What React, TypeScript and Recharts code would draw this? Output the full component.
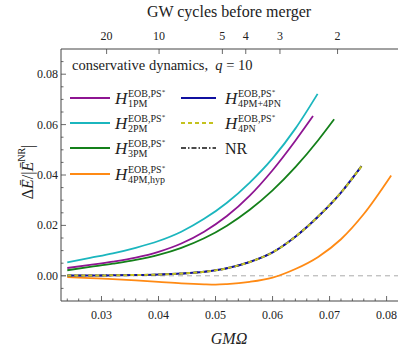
import { LineChart, Line, XAxis, YAxis, ReferenceLine } from 'recharts'

// GMΩ samples and relative binding-energy error
const omega1PM = [0.024, 0.028, 0.032, 0.036, 0.04, 0.044, 0.048, 0.052, 0.056, 0.06, 0.064, 0.0671]
const dE1PM = [0.0031, 0.0043, 0.0056, 0.0072, 0.0095, 0.0128, 0.0175, 0.0237, 0.0318, 0.0419, 0.0536, 0.0634]

const omega2PM = [0.024, 0.028, 0.032, 0.036, 0.04, 0.044, 0.048, 0.052, 0.056, 0.06, 0.064, 0.0679]
const dE2PM = [0.0053, 0.0071, 0.0089, 0.0111, 0.0138, 0.0175, 0.0226, 0.029, 0.037, 0.0466, 0.0584, 0.0722]

const omega3PM = [0.024, 0.028, 0.032, 0.036, 0.04, 0.044, 0.048, 0.052, 0.056, 0.06, 0.064, 0.068, 0.0708]
const dE3PM = [0.0022, 0.0035, 0.0048, 0.0063, 0.0083, 0.0111, 0.0149, 0.0199, 0.0262, 0.0339, 0.0431, 0.0538, 0.0621]

const omegaHyp = [0.024, 0.028, 0.032, 0.036, 0.04, 0.044, 0.048, 0.05, 0.052, 0.056, 0.06, 0.064, 0.068, 0.072, 0.076, 0.0808]
const dEHyp = [-0.0005, -0.0009, -0.0013, -0.0018, -0.0024, -0.003, -0.0034, -0.0035, -0.0033, -0.0024, -0.0007, 0.0027, 0.0075, 0.0145, 0.0245, 0.0398]

// 4PM+4PN, 4PN and NR lie on top of each other
const omegaNR = [0.024, 0.028, 0.032, 0.036, 0.04, 0.044, 0.048, 0.052, 0.056, 0.06, 0.064, 0.068, 0.072, 0.0756]
const dENR = [0.0001, 0.0001, 0.0002, 0.0003, 0.0005, 0.0009, 0.0016, 0.003, 0.0055, 0.0093, 0.0155, 0.0235, 0.033, 0.0435]
const dE4PM4PN = [0.0001, 0.0001, 0.0002, 0.0003, 0.0005, 0.0009, 0.0016, 0.003, 0.0055, 0.0093, 0.0155, 0.0235, 0.033, 0.0435]
const dE4PN = [0.0001, 0.0001, 0.0002, 0.0003, 0.0005, 0.0009, 0.0016, 0.003, 0.0055, 0.0093, 0.0155, 0.0235, 0.033, 0.0435]

// top axis: GW cycles left before merger
const cycleLabels = ['20', '10', '5', '4', '3', '2']
const cycleOmega = [0.0309, 0.0401, 0.0512, 0.0553, 0.0613, 0.0714]

const xMajor = [0.03, 0.04, 0.05, 0.06, 0.07, 0.08]
const xTicks = [
  0.024, 0.026, 0.028, 0.03, 0.032, 0.034, 0.036, 0.038, 0.04, 0.042, 0.044, 0.046, 0.048, 0.05,
  0.052, 0.054, 0.056, 0.058, 0.06, 0.062, 0.064, 0.066, 0.068, 0.07, 0.072, 0.074, 0.076, 0.078,
  0.08,
]
const yMajor = [0, 0.02, 0.04, 0.06, 0.08]
const yTicks = [
  -0.005, 0, 0.005, 0.01, 0.015, 0.02, 0.025, 0.03, 0.035, 0.04, 0.045, 0.05, 0.055, 0.06, 0.065,
  0.07, 0.075, 0.08, 0.085,
]

const pts = (xs: number[], ys: number[]) => xs.map((x, i) => ({ x, y: ys[i] }))

const W = 407
const H = 349
const serif = { fontFamily: "'Liberation Serif', 'DejaVu Serif', serif" }
const FRAME = '#444'
const isMajor = (list: number[], v: number) => list.some((m) => Math.abs(m - v) < 1e-9)

const BottomTick = (p: any) => {
  const v = p.payload.value
  const major = isMajor(xMajor, v)
  return (
    <g>
      <line x1={p.x} x2={p.x} y1={p.y} y2={p.y - (major ? 5 : 2.5)} stroke={FRAME} strokeWidth={0.8} />
      {major && (
        <text x={p.x} y={p.y + 14} textAnchor="middle" dominantBaseline="central" fontSize={12} style={serif} fill="#222">
          {v.toFixed(2)}
        </text>
      )}
    </g>
  )
}

const TopTick = (p: any) => (
  <g>
    <line x1={p.x} x2={p.x} y1={p.y} y2={p.y + 5} stroke={FRAME} strokeWidth={0.8} />
    <text x={p.x} y={p.y - 13} textAnchor="middle" dominantBaseline="central" fontSize={12} style={serif} fill="#222">
      {cycleLabels[p.index]}
    </text>
  </g>
)

const LeftTick = (p: any) => {
  const v = p.payload.value
  const major = isMajor(yMajor, v)
  return (
    <g>
      <line x1={p.x} x2={p.x + (major ? 5 : 2.5)} y1={p.y} y2={p.y} stroke={FRAME} strokeWidth={0.8} />
      {major && (
        <text x={p.x - 3} y={p.y} textAnchor="end" dominantBaseline="central" fontSize={12} style={serif} fill="#222">
          {v.toFixed(2)}
        </text>
      )}
    </g>
  )
}

const RightTick = (p: any) => {
  const major = isMajor(yMajor, p.payload.value)
  return <line x1={p.x} x2={p.x - (major ? 5 : 2.5)} y1={p.y} y2={p.y} stroke={FRAME} strokeWidth={0.8} />
}

const legendRows = [
  { col: 0, row: 0, sub: '1PM', color: '#8e1592', dash: undefined },
  { col: 0, row: 1, sub: '2PM', color: '#1bb6be', dash: undefined },
  { col: 0, row: 2, sub: '3PM', color: '#14801a', dash: undefined },
  { col: 0, row: 3, sub: '4PM,hyp', color: '#ff8a14', dash: undefined },
  { col: 1, row: 0, sub: '4PM+4PN', color: '#1010a0', dash: undefined },
  { col: 1, row: 1, sub: '4PN', color: '#c4c21e', dash: '4 3' },
]
const rowY = [98, 123, 148, 174]
const colX = [[70, 110, 115], [181, 216, 225]]

function Overlay() {
  return (
    <svg width={W} height={H} style={{ position: 'absolute', left: 0, top: 0, pointerEvents: 'none', ...serif }}>
      <text x={229} y={11} textAnchor="middle" dominantBaseline="central" fontSize={16} fill="#222">
        GW cycles before merger
      </text>
      <text x={229} y={338} textAnchor="middle" dominantBaseline="central" fontSize={16} fontStyle="italic" fill="#222">
        GMΩ
      </text>
      <text transform="translate(27,172) rotate(-90)" textAnchor="middle" dominantBaseline="central" fontSize={16} fill="#222">
        Δ<tspan fontStyle="italic">Ē</tspan>/|<tspan fontStyle="italic">Ē</tspan>
        <tspan dy={-6} fontSize={10}>NR</tspan>
        <tspan dy={6}>|</tspan>
      </text>
      <text x={72} y={70} fontSize={14.5} fill="#222">
        conservative dynamics,{'\u00a0\u00a0'}<tspan fontStyle="italic">q</tspan> = 10
      </text>
      {legendRows.map((r) => {
        const [x1, x2, tx] = colX[r.col]
        const y = rowY[r.row]
        return (
          <g key={r.sub}>
            <line x1={x1} x2={x2} y1={y} y2={y} stroke={r.color} strokeWidth={2} strokeDasharray={r.dash} />
            <text x={tx} y={y + 6} fontSize={17} fontStyle="italic" fill="#222">H</text>
            <text x={tx + 13} y={y - 1.5} fontSize={10} fill="#222">
              EOB,PS<tspan dy={-3} fontSize={7}>*</tspan>
            </text>
            <text x={tx + 13} y={y + 9} fontSize={10} fill="#222">{r.sub}</text>
          </g>
        )
      })}
      <line x1={181} x2={216} y1={148} y2={148} stroke="#111" strokeWidth={1.6} strokeDasharray="5 2 1.5 2" />
      <text x={225} y={153.5} fontSize={16} fill="#222">NR</text>
    </svg>
  )
}

export default function App() {
  return (
    <div style={{ position: 'absolute', left: 0, top: 0, width: W, height: H, background: '#fff', ...serif }}>
      <LineChart width={W} height={H} margin={{ top: 0, right: 9, left: 0, bottom: 0 }}>
        <XAxis
          dataKey="x" type="number" domain={[0.0229, 0.082]} allowDataOverflow
          ticks={xTicks} interval={0} height={48} tickSize={0} tickMargin={0}
          axisLine={{ stroke: FRAME }} tick={BottomTick}
        />
        <XAxis
          xAxisId="top" orientation="top" dataKey="x" type="number" domain={[0.0229, 0.082]} allowDataOverflow
          ticks={cycleOmega} interval={0} height={49} tickSize={0} tickMargin={0}
          axisLine={{ stroke: FRAME }} tick={TopTick}
        />
        <YAxis
          type="number" domain={[-0.01, 0.09]} allowDataOverflow ticks={yTicks} interval={0}
          width={61} tickSize={0} tickMargin={0} axisLine={{ stroke: FRAME }} tick={LeftTick}
        />
        <YAxis
          yAxisId="r" orientation="right" type="number" domain={[-0.01, 0.09]} allowDataOverflow
          ticks={yTicks} interval={0} width={0} tickSize={0} tickMargin={0}
          axisLine={{ stroke: FRAME }} tick={RightTick}
        />
        <ReferenceLine y={0} stroke="#aaa" strokeDasharray="5 4" strokeWidth={1} />
        <Line data={pts(omega2PM, dE2PM)} dataKey="y" type="monotone" stroke="#1bb6be" strokeWidth={1.8} dot={false} isAnimationActive={false} />
        <Line data={pts(omega1PM, dE1PM)} dataKey="y" type="monotone" stroke="#8e1592" strokeWidth={1.8} dot={false} isAnimationActive={false} />
        <Line data={pts(omega3PM, dE3PM)} dataKey="y" type="monotone" stroke="#14801a" strokeWidth={1.8} dot={false} isAnimationActive={false} />
        <Line data={pts(omegaHyp, dEHyp)} dataKey="y" type="monotone" stroke="#ff8a14" strokeWidth={1.8} dot={false} isAnimationActive={false} />
        <Line data={pts(omegaNR, dENR)} dataKey="y" type="monotone" stroke="#111" strokeWidth={1.6} strokeDasharray="5 2 1.5 2" dot={false} isAnimationActive={false} />
        <Line data={pts(omegaNR, dE4PM4PN)} dataKey="y" type="monotone" stroke="#1010a0" strokeWidth={2} dot={false} isAnimationActive={false} />
        <Line data={pts(omegaNR, dE4PN)} dataKey="y" type="monotone" stroke="#c4c21e" strokeWidth={2} strokeDasharray="4 3" dot={false} isAnimationActive={false} />
      </LineChart>
      <Overlay />
    </div>
  )
}
